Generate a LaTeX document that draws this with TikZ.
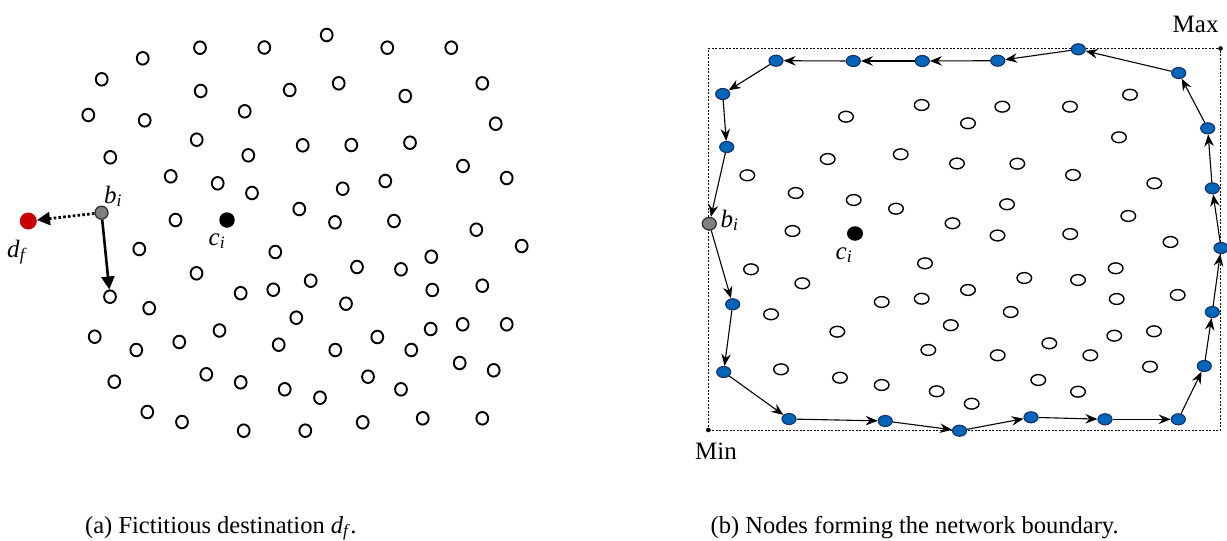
\documentclass[tikz,border=0pt]{standalone}
\usepackage{fontspec}
\setmainfont{Liberation Serif}
\usetikzlibrary{arrows.meta,shapes.geometric}
\definecolor{nodeblue}{RGB}{0,102,185}
\definecolor{nodeblueedge}{RGB}{22,52,112}
\definecolor{destred}{RGB}{200,0,0}
\definecolor{bgray}{RGB}{128,128,128}
\newcommand\sublab[2]{\textit{#1}\textsubscript{\textit{#2}}}
\tikzset{
  lw/.style={ellipse,draw=black,fill=white,line width=1.9pt,minimum width=11.8pt,minimum height=12.6pt,inner sep=0pt},
  rw/.style={ellipse,draw=black,fill=white,line width=1.4pt,minimum width=14.6pt,minimum height=10.8pt,inner sep=0pt},
  bnode/.style={ellipse,draw=nodeblueedge,fill=nodeblue,line width=1.2pt,minimum width=14pt,minimum height=11pt,inner sep=0pt},
  edgenode/.style={ellipse,draw=black!80,fill=bgray,line width=1.3pt,inner sep=0pt},
  centrenode/.style={circle,fill=black,inner sep=0pt},
  lab/.style={inner sep=0pt,font=\fontsize{25}{29}\selectfont},
  captext/.style={inner sep=0pt,anchor=base west,font=\fontsize{24.5}{29}\selectfont},
  hull/.style={line width=1.1pt,-{Stealth[length=12pt,width=9.5pt,inset=4pt]}},
  fat/.style={line width=2.6pt,-{Triangle[length=13pt,width=13pt]}},
  boxline/.style={line width=0.8pt,dash pattern=on 2pt off 1.5pt},
}
\begin{document}
\begin{tikzpicture}[x=1pt,y=-1pt]
\useasboundingbox (0,0) rectangle (1227,541);

% ---------- (a) fictitious destination ----------
\foreach \x/\y [count=\k] in {
 142.7/58.3, 200/47.7, 264.3/47.5, 326.7/35, 387.3/47.7, 451.3/47.7,
 101.7/79.3, 200.7/91, 88.3/115, 144.7/120.3, 244.7/111.3, 196.7/139.7,
 248.3/155.3, 110.3/157.3, 170.7/176.3, 217.7/183.3, 252/193, 175.5/220,
 289.7/90, 338.7/83.3, 405.3/96, 482.3/83.3, 495.7/123.7, 302.7/145.3,
 351.3/145, 410/142.7, 463/166, 506.7/178, 342.7/188.7, 385.3/181,
 299.3/209, 335/222.3, 394/221, 476.3/229.7, 521.7/246, 275.3/252,
 357/267, 401/269.3, 431.3/256.7, 310.7/280.7, 273.3/289.7, 432.3/290,
 482.3/285.7, 346/303.7, 296.3/317.7, 430.7/329, 462.7/324.3, 506.7/324.3,
 278.7/344.7, 335.3/350, 377.3/337, 411.3/350, 459.7/363, 493.7/370.3,
 284.7/389.3, 320/397.7, 368/376.7, 401/389.3, 305.3/430.7, 362.7/422.3,
 422.7/418.3, 482.3/418.3, 139.3/249, 196.5/273.3, 240.7/293.2, 149.2/308.2,
 94.7/336.7, 136.3/350, 179.3/342, 219.5/330.5, 114.3/381.7, 206.3/374.3,
 240.7/382.3, 147.3/412, 182/422, 243.7/430.7}
  \node[lw] (a\k) at (\x,\y) {};

\node[lw] (anext) at (110,296.7) {};
\node[edgenode,minimum size=13pt] (abi) at (101.5,212.7) {};
\node[circle,fill=destred,minimum size=17pt,inner sep=0pt] (adf) at (28.3,221) {};
\node[centrenode,minimum size=15.5pt] (aci) at (227,220) {};

\draw[fat,line width=2.8pt,dash pattern=on 2.6pt off 2.2pt] (abi) -- (adf);
\draw[fat] (abi) -- (anext);

\node[lab,anchor=base west] (labbi) at (104,203) {\sublab{b}{i}};
\node[lab,anchor=base west] (labdf) at (7,257) {\sublab{d}{f}};
\node[lab,anchor=base west] (labci) at (208.5,245) {\sublab{c}{i}};

\node[captext] (capa) at (85,533) {(a) Fictitious destination \sublab{d}{f}.};

% ---------- (b) boundary nodes ----------
\coordinate (mn) at (708.3,430);
\coordinate (mx) at (1220.5,48.5);
\draw[boxline] (mn) rectangle (mx);
\fill (mn) circle (2.3pt);
\fill (mx) circle (2.3pt);
\node[lab,anchor=base west] (maxlab) at (1172.5,32.5) {Max};
\node[lab,anchor=base west] (minlab) at (695,459) {Min};

\foreach \x/\y [count=\k] in {
 921.7/105, 846/116.7, 900.7/154.3, 827.7/159, 747.3/175.3, 795.7/193,
 853.7/200, 896/208.7, 957/163.5, 952.5/223.3, 792.5/231, 1130/94.7,
 1002.3/106.7, 1070/106.7, 968/123.3, 1119/137.3, 1017.3/163.7, 1073/175,
 1154.3/183.3, 1007/204.3, 1128.3/216, 997.5/235.5, 1070.2/234, 1170.5/242,
 1024.3/278, 1078/280, 1115.7/268.3, 968/290, 1116.7/299, 1177.7/295,
 1010.7/312, 950.8/325.2, 1049.3/343.3, 1114.3/335.7, 1154/331.3, 997.7/355.3,
 1090.3/355.3, 1150/366.7, 1038.3/380, 1078/391.7, 971.7/403.7, 925/263.3,
 751/269.3, 802.3/283.3, 881.7/302, 921.7/298.7, 771/314.3, 837.3/331.7,
 928.3/350, 781/369.3, 840/377.7, 881.7/385, 936.7/391.3}
  \node[rw] (b\k) at (\x,\y) {};

\node[centrenode,minimum width=16pt,minimum height=14.5pt,ellipse] (bci) at (855,233.5) {};
\node[edgenode,minimum width=14pt,minimum height=12.5pt] (bbi) at (709.3,223.7) {};

\foreach \x/\y [count=\k] in {
 1178.7/73, 1078.3/49.3, 997.7/60.7, 922.3/61, 853.3/61, 776/60.7,
 722.7/94, 726.7/147, 732.7/304.3, 723.7/372, 789/419, 885.3/421,
 959.5/430.7, 1031/417.3, 1105/419.3, 1178.3/419.3, 1204.3/366, 1212.3/312,
 1221/248, 1212.3/188.3, 1207.7/128.3}
  \node[bnode] (p\k) at (\x,\y) {};

% boundary walk, in order
\foreach \s/\t in {p1/p2,p2/p3,p3/p4,p4/p5,p5/p6,p6/p7,p7/p8,p8/bbi,bbi/p9,
  p9/p10,p10/p11,p11/p12,p12/p13,p13/p14,p14/p15,p15/p16,p16/p17,p17/p18,
  p18/p19,p19/p20,p20/p21,p21/p1}
  \draw[hull] (\s) -- (\t);

\node[lab,anchor=base west] (labbbi) at (720.5,227) {\sublab{b}{i}};
\node[lab,anchor=base west] (labbci) at (835.5,259) {\sublab{c}{i}};

\node[captext] (capb) at (710.5,533) {(b) Nodes forming the network boundary.};
\end{tikzpicture}
\end{document}
